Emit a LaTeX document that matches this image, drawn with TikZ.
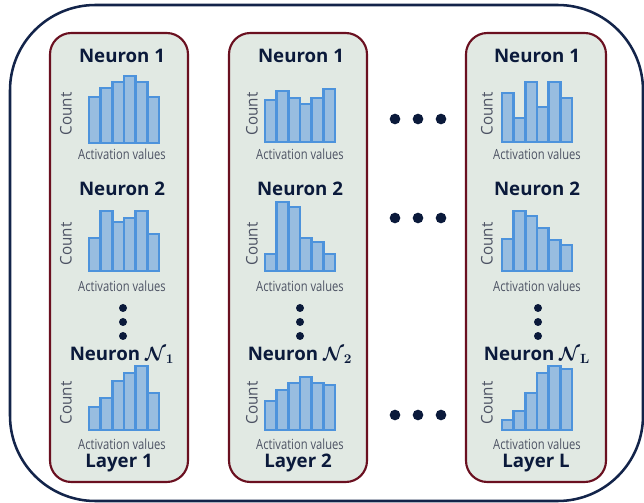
\documentclass[tikz,border=0pt]{standalone}
\usepackage[no-math]{fontspec}
\setmainfont{Open Sans}
\newfontfamily\axisfont[FakeStretch=0.8]{Open Sans}
\newfontfamily\countfont[FakeStretch=0.95]{Open Sans}
\usepackage{bm}

\definecolor{inkblue}{HTML}{0B1A3B}
\definecolor{framenavy}{HTML}{13244A}
\definecolor{layeredge}{HTML}{6A1020}
\definecolor{layerfill}{HTML}{E1E9E3}
\definecolor{barfill}{HTML}{98BDE0}
\definecolor{baredge}{HTML}{4D93DC}
\definecolor{axisgray}{HTML}{4C5263}

% six-bar histogram: left x, baseline y, list of bar heights (all in px units)
\newcommand{\histbars}[3]{%
  \foreach \h [count=\i from 0] in {#3} {
    \draw[bar] ({#1+\i*70/6},#2) rectangle ({#1+(\i+1)*70/6},{#2-\h});
  }%
}

\begin{document}
\begin{tikzpicture}[x=0.75pt,y=-0.75pt,
  outerframe/.style={draw=framenavy,line width=1.9pt,rounded corners=64pt},
  layerbox/.style={draw=layeredge,fill=layerfill,line width=1.6pt,rounded corners=16pt},
  bar/.style={draw=baredge,fill=barfill,line width=1.8pt},
  title/.style={text=inkblue,font=\fontsize{14}{16}\selectfont\bfseries,inner sep=0pt},
  axislabel/.style={text=axisgray,font=\axisfont\fontsize{10.5}{12}\selectfont,inner sep=0pt},
  countlabel/.style={text=axisgray,font=\countfont\fontsize{12}{14}\selectfont,rotate=90,inner sep=0pt},
  vdot/.style={circle,fill=inkblue,inner sep=0pt,minimum size=6pt},
  hdot/.style={circle,fill=inkblue,inner sep=0pt,minimum size=8pt}]
\useasboundingbox (0,0) rectangle (644,503);

% outer frame
\draw[outerframe] (10,5) rectangle (643,501);

% layer columns
\draw[layerbox] (50,33) rectangle (188,482);
\draw[layerbox] (229,33) rectangle (367,482);
\draw[layerbox] (466,33) rectangle (606,482);

% ---------------- Layer 1 ----------------
\node[title] (a1) at (122,56) {Neuron 1};
\histbars{89}{143}{46,55,61,67,61,46}
\node[countlabel] (a1c) at (66,114) {Count};
\node[axislabel] (a1x) at (122,154) {Activation values};

\node[title] (a2) at (122,189) {Neuron 2};
\histbars{89}{271}{33,60,49,53,60,37}
\node[countlabel] (a2c) at (66,244) {Count};
\node[axislabel] (a2x) at (122,286) {Activation values};

\node[vdot] (a3d1) at (123,308) {};
\node[vdot] (a3d2) at (123,322) {};
\node[vdot] (a3d3) at (123,336) {};

\node[title] (a3) at (122,355) {Neuron $\bm{\mathcal{N}}_{\mathbf{1}}$};
\histbars{89}{430}{23,32,49,57,64,37}
\node[countlabel] (a3c) at (66,403) {Count};
\node[axislabel] (a3x) at (122,444) {Activation values};
\node[title] (a0) at (119,463) {Layer 1};

% ---------------- Layer 2 ----------------
\node[title] (b1) at (301,56) {Neuron 1};
\histbars{265}{142}{42,51,44,38,44,53}
\node[countlabel] (b1c) at (252,114) {Count};
\node[axislabel] (b1x) at (300,154) {Activation values};

\node[title] (b2) at (300,189) {Neuron 2};
\histbars{265}{271}{17,69,64,33,29,17}
\node[countlabel] (b2c) at (252,244) {Count};
\node[axislabel] (b2x) at (300,286) {Activation values};

\node[vdot] (b3d1) at (300,308) {};
\node[vdot] (b3d2) at (300,322) {};
\node[vdot] (b3d3) at (300,336) {};

\node[title] (b3) at (300,355) {Neuron $\bm{\mathcal{N}}_{\mathbf{2}}$};
\histbars{265}{430}{29,40,47,53,47,45}
\node[countlabel] (b3c) at (252,403) {Count};
\node[axislabel] (b3x) at (300,444) {Activation values};
\node[title] (b0) at (298,463) {Layer 2};

% ---------------- Layer L ----------------
\node[title] (c1) at (537,56) {Neuron 1};
\histbars{502}{142}{49,24,60,35,60,44}
\node[countlabel] (c1c) at (487,114) {Count};
\node[axislabel] (c1x) at (537,154) {Activation values};

\node[title] (c2) at (537,189) {Neuron 2};
\histbars{502}{271}{32,60,55,43,31,26}
\node[countlabel] (c2c) at (487,244) {Count};
\node[axislabel] (c2x) at (537,286) {Activation values};

\node[vdot] (c3d1) at (538,308) {};
\node[vdot] (c3d2) at (538,322) {};
\node[vdot] (c3d3) at (538,336) {};

\node[title] (c3) at (537,355) {Neuron $\bm{\mathcal{N}}_{\mathbf{L}}$};
\histbars{502}{430}{10,19,37,57,64,61}
\node[countlabel] (c3c) at (487,403) {Count};
\node[axislabel] (c3x) at (537,444) {Activation values};
\node[title] (c0) at (536,463) {Layer L};

% ellipsis between layer 2 and layer L
\foreach \y/\r in {119/t,218/m,415/b} {
  \node[hdot] (h\r1) at (395,\y) {};
  \node[hdot] (h\r2) at (418,\y) {};
  \node[hdot] (h\r3) at (441,\y) {};
}
\end{tikzpicture}
\end{document}
